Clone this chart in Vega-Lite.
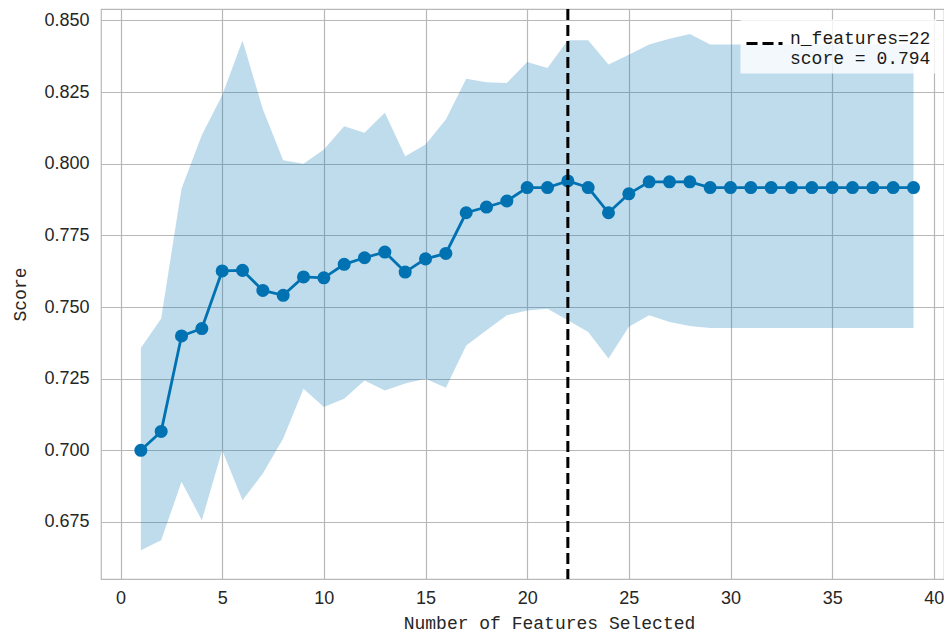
{
  "$schema": "https://vega.github.io/schema/vega-lite/v6.json",
  "autosize": {"type": "none"},
  "padding": {"left": 101, "top": 9, "right": 0, "bottom": 58},
  "width": 843,
  "height": 570,
  "background": "white",
  "config": {
    "view": {"stroke": "#b8b8b8", "strokeWidth": 1.2},
    "axis": {
      "grid": true,
      "gridColor": "#b8b8b8",
      "gridWidth": 1.2,
      "domain": false,
      "ticks": false,
      "labelFont": "Liberation Sans",
      "labelFontSize": 18,
      "labelColor": "#262626",
      "titleFont": "Liberation Mono",
      "titleFontSize": 18,
      "titleFontWeight": "normal",
      "titleColor": "#262626"
    }
  },
  "datasets": {
    "cv": [
      {"n": 1, "score": 0.7000, "lo": 0.6651, "hi": 0.7357},
      {"n": 2, "score": 0.7066, "lo": 0.6686, "hi": 0.7460},
      {"n": 3, "score": 0.7399, "lo": 0.6890, "hi": 0.7913},
      {"n": 4, "score": 0.7425, "lo": 0.6756, "hi": 0.8100},
      {"n": 5, "score": 0.7626, "lo": 0.7000, "hi": 0.8239},
      {"n": 6, "score": 0.7628, "lo": 0.6826, "hi": 0.8430},
      {"n": 7, "score": 0.7558, "lo": 0.6919, "hi": 0.8190},
      {"n": 8, "score": 0.7541, "lo": 0.7041, "hi": 0.8012},
      {"n": 9, "score": 0.7605, "lo": 0.7215, "hi": 0.8000},
      {"n": 10, "score": 0.7602, "lo": 0.7151, "hi": 0.8050},
      {"n": 11, "score": 0.7649, "lo": 0.7180, "hi": 0.8131},
      {"n": 12, "score": 0.7672, "lo": 0.7244, "hi": 0.8108},
      {"n": 13, "score": 0.7692, "lo": 0.7209, "hi": 0.8178},
      {"n": 14, "score": 0.7622, "lo": 0.7233, "hi": 0.8026},
      {"n": 15, "score": 0.7668, "lo": 0.7250, "hi": 0.8067},
      {"n": 16, "score": 0.7687, "lo": 0.7218, "hi": 0.8154},
      {"n": 17, "score": 0.7829, "lo": 0.7366, "hi": 0.8297},
      {"n": 18, "score": 0.7849, "lo": 0.7419, "hi": 0.8284},
      {"n": 19, "score": 0.7870, "lo": 0.7471, "hi": 0.8282},
      {"n": 20, "score": 0.7917, "lo": 0.7488, "hi": 0.8355},
      {"n": 21, "score": 0.7917, "lo": 0.7494, "hi": 0.8334},
      {"n": 22, "score": 0.7940, "lo": 0.7454, "hi": 0.8431},
      {"n": 23, "score": 0.7917, "lo": 0.7413, "hi": 0.8431},
      {"n": 24, "score": 0.7829, "lo": 0.7320, "hi": 0.8346},
      {"n": 25, "score": 0.7895, "lo": 0.7431, "hi": 0.8380},
      {"n": 26, "score": 0.7937, "lo": 0.7471, "hi": 0.8416},
      {"n": 27, "score": 0.7937, "lo": 0.7448, "hi": 0.8436},
      {"n": 28, "score": 0.7937, "lo": 0.7434, "hi": 0.8453},
      {"n": 29, "score": 0.7917, "lo": 0.7427, "hi": 0.8416},
      {"n": 30, "score": 0.7917, "lo": 0.7427, "hi": 0.8416},
      {"n": 31, "score": 0.7917, "lo": 0.7427, "hi": 0.8416},
      {"n": 32, "score": 0.7917, "lo": 0.7427, "hi": 0.8416},
      {"n": 33, "score": 0.7917, "lo": 0.7427, "hi": 0.8416},
      {"n": 34, "score": 0.7917, "lo": 0.7427, "hi": 0.8416},
      {"n": 35, "score": 0.7917, "lo": 0.7427, "hi": 0.8416},
      {"n": 36, "score": 0.7917, "lo": 0.7427, "hi": 0.8416},
      {"n": 37, "score": 0.7917, "lo": 0.7427, "hi": 0.8416},
      {"n": 38, "score": 0.7917, "lo": 0.7427, "hi": 0.8416},
      {"n": 39, "score": 0.7917, "lo": 0.7427, "hi": 0.8416}
    ],
    "best": [
      {"n": 22, "label": "n_features=22|score = 0.794"}
    ]
  },
  "layer": [
    {
      "data": {"name": "cv"},
      "mark": {"type": "area", "color": "#0072B2", "opacity": 0.25},
      "encoding": {
        "x": {
          "field": "n", "type": "quantitative",
          "scale": {"domain": [-0.96, 40.5], "nice": false, "zero": false},
          "axis": {
            "values": [0, 5, 10, 15, 20, 25, 30, 35, 40],
            "title": "Number of Features Selected",
            "labelPadding": 10,
            "titlePadding": 7,
            "titleX": 448
          }
        },
        "y": {
          "field": "hi", "type": "quantitative",
          "scale": {"domain": [0.6551, 0.854], "nice": false, "zero": false},
          "axis": {
            "values": [0.675, 0.7, 0.725, 0.75, 0.775, 0.8, 0.825, 0.85],
            "format": ".3f",
            "title": "Score",
            "labelPadding": 12,
            "titlePadding": 14
          }
        },
        "y2": {"field": "lo"}
      }
    },
    {
      "data": {"name": "cv"},
      "mark": {
        "type": "line",
        "color": "#0072B2",
        "strokeWidth": 2.8,
        "point": {"filled": true, "size": 170, "color": "#0072B2", "opacity": 1}
      },
      "encoding": {
        "x": {"field": "n", "type": "quantitative"},
        "y": {"field": "score", "type": "quantitative"}
      }
    },
    {
      "data": {"name": "best"},
      "mark": {"type": "rule", "color": "black", "strokeWidth": 3},
      "encoding": {
        "x": {"field": "n", "type": "quantitative"},
        "strokeDash": {
          "field": "label", "type": "nominal",
          "scale": {"range": [[11, 5]]},
          "legend": {
            "title": null,
            "orient": "none",
            "legendX": 639,
            "legendY": 10,
            "padding": 5,
            "fillColor": "rgba(255,255,255,0.8)",
            "strokeColor": "transparent",
            "symbolType": "stroke",
            "symbolSize": 1296,
            "symbolStrokeWidth": 3,
            "symbolStrokeColor": "black",
            "labelFont": "Liberation Mono",
            "labelFontSize": 18,
            "labelColor": "#1a1a1a",
            "labelBaseline": "alphabetic",
            "labelOffset": 6,
            "labelLimit": 300,
            "labelExpr": "split(datum.label, '|')"
          }
        }
      }
    }
  ]
}
